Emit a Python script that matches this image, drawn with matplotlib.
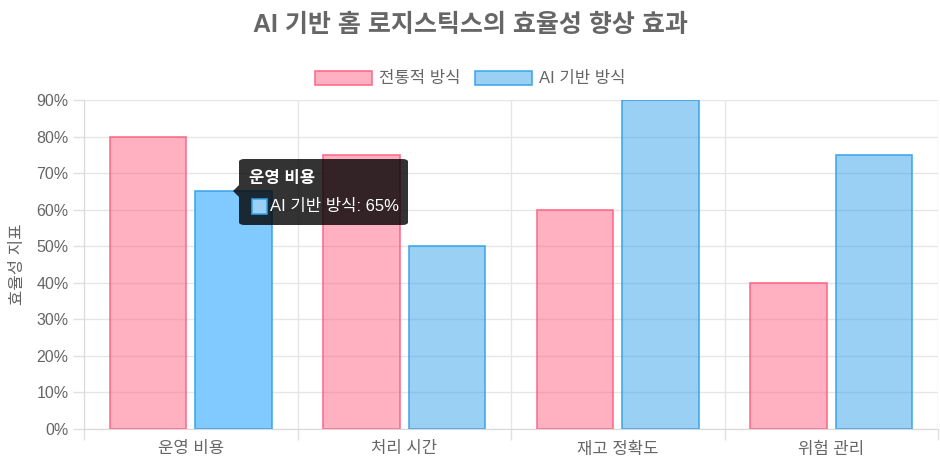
import numpy as np
import matplotlib
matplotlib.use("Agg")
import matplotlib.pyplot as plt
from matplotlib.patches import FancyBboxPatch, Polygon, Rectangle

plt.rcParams['font.family'] = ['Liberation Sans', 'Noto Sans CJK KR', 'DejaVu Sans']

categories = ["운영 비용", "처리 시간", "재고 정확도", "위험 관리"]
traditional = [80, 75, 60, 40]
ai_based = [65, 50, 90, 75]
y_ticks = [0, 10, 20, 30, 40, 50, 60, 70, 80, 90]

PINK_FILL = (1.0, 99/255, 132/255, 0.5)
PINK_EDGE = (1.0, 99/255, 132/255, 0.9)
BLUE_FILL = (54/255, 162/255, 235/255, 0.5)
BLUE_HOVER = (128/255, 202/255, 255/255)
BLUE_EDGE = (54/255, 162/255, 235/255, 0.9)
TXT = "#666666"

fig = plt.figure(figsize=(9.4, 4.7), dpi=100)
ax = fig.add_axes([84/940, 1 - 429/470, 854/940, 329/470])

x = np.arange(len(categories))
cat_w = 0.8
bw = cat_w / 2 * 0.9
off = cat_w / 4
for i in range(len(categories)):
    ax.bar(x[i] - off, traditional[i], bw, color=PINK_FILL, edgecolor=PINK_EDGE, linewidth=1.2)
    fc = BLUE_HOVER if i == 0 else BLUE_FILL
    ax.bar(x[i] + off, ai_based[i], bw, color=fc, edgecolor=BLUE_EDGE, linewidth=1.2)

ax.set_xlim(-0.5, len(categories) - 0.5)
ax.set_ylim(0, 90)
ax.set_yticks(y_ticks)
ax.set_yticklabels([f"{v}%" for v in y_ticks])
ax.set_xticks(x)
ax.set_xticklabels(categories)
ax.set_xticks(np.arange(-0.5, len(categories)), minor=True)
ax.tick_params(axis="x", which="major", length=0, pad=9, labelsize=12, colors=TXT)
ax.tick_params(axis="x", which="minor", length=8, color="#e0e0e0", width=1)
ax.tick_params(axis="y", length=8, color="#e0e0e0", width=1, pad=3, labelsize=11.5, colors=TXT)
ax.grid(True, which="major", axis="y", color="#e6e6e6", lw=1)
ax.grid(True, which="minor", axis="x", color="#e6e6e6", lw=1)
ax.set_axisbelow(True)
for s in ["top", "right"]:
    ax.spines[s].set_visible(False)
for s in ["left", "bottom"]:
    ax.spines[s].set_color("#d9d9d9")
ax.set_ylabel("효율성 지표", color=TXT, fontsize=12, labelpad=8)

fig.text(0.5, 1 - 25/470, "AI 기반 홈 로지스틱스의 효율성 향상 효과", ha="center", va="center",
         fontsize=18, fontweight="bold", color=TXT)

# legend
lg_y = 1 - 78/470
fig.patches.append(Rectangle((315/940, lg_y - 7/470), 57/940, 14/470, transform=fig.transFigure,
                             facecolor=PINK_FILL, edgecolor=PINK_EDGE, lw=1.2))
fig.text(379/940, lg_y, "전통적 방식", va="center", ha="left", fontsize=12, color=TXT)
fig.patches.append(Rectangle((475/940, lg_y - 7/470), 57/940, 14/470, transform=fig.transFigure,
                             facecolor=BLUE_FILL, edgecolor=BLUE_EDGE, lw=1.2))
fig.text(539/940, lg_y, "AI 기반 방식", va="center", ha="left", fontsize=12, color=TXT)

# tooltip
T = fig.transFigure
bx0, bx1, by0, by1 = 239/940, 408/940, 1 - 225/470, 1 - 159/470
fig.patches.append(FancyBboxPatch((bx0, by0), bx1 - bx0, by1 - by0, transform=T,
                                  boxstyle="round,pad=0,rounding_size=0.006",
                                  facecolor=(0, 0, 0, 0.8), edgecolor="none", zorder=10))
fig.patches.append(Polygon([(233/940, 1 - 191/470), (239/940, 1 - 185/470), (239/940, 1 - 197/470)],
                           closed=True, transform=T, facecolor=(0, 0, 0, 0.8), edgecolor="none", zorder=10))
fig.text(249/940, 1 - 178/470, "운영 비용", color="white", fontsize=12, fontweight="bold",
         va="center", ha="left", zorder=11)
fig.patches.append(Rectangle((252/940, 1 - 214/470), 15/940, 15/470, transform=T,
                             facecolor=(154/255, 208/255, 245/255), edgecolor=BLUE_EDGE, lw=1.2, zorder=11))
fig.text(270/940, 1 - 207/470, "AI 기반 방식: 65%", color="white", fontsize=12,
         va="center", ha="left", zorder=11)

fig.savefig("out.png", dpi=100, facecolor="white")
